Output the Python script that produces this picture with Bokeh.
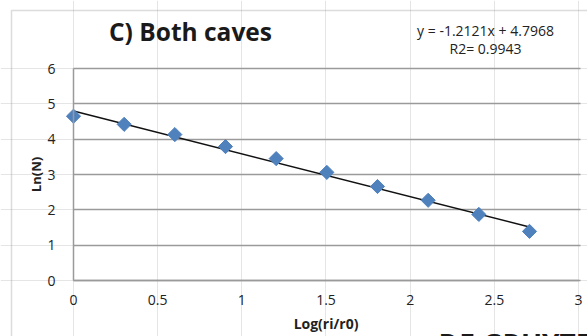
from bokeh.plotting import figure
from bokeh.models import LinearAxis, FixedTicker, Grid, Range1d, BoxAnnotation
from bokeh.core.properties import value
from bokeh.embed import file_html
from bokeh.resources import INLINE

# data
log_r = [0.0, 0.301, 0.602, 0.903, 1.204, 1.505, 1.806, 2.107, 2.408, 2.709]
ln_n = [4.65, 4.42, 4.13, 3.79, 3.45, 3.06, 2.66, 2.27, 1.87, 1.39]
slope = -1.2121
intercept = 4.7968
r2 = 0.9943
x_ticks = [0, 0.5, 1, 1.5, 2, 2.5, 3]
y_ticks = [0, 1, 2, 3, 4, 5, 6]
title_text = "C) Both caves"
x_label = "Log(ri/r0)"
y_label = "Ln(N)"
watermark = "DE GRUYTER"

FONT = "Open Sans"
GRID = "#9a9a9a"

W, H = 587, 336
# frame spans the whole canvas; plot area 0..3 x 0..6 placed inside it
px_per_x = 168.33
px_per_y = 35.333
x0_px, y0_px = 73, 280
x_range = Range1d(-x0_px / px_per_x, (W - x0_px) / px_per_x)
y_range = Range1d(-(H - y0_px) / px_per_y, y0_px / px_per_y)

p = figure(width=W, height=H, output_backend="svg", toolbar_location=None,
           x_range=x_range, y_range=y_range, x_axis_location=None, y_axis_location=None,
           min_border=0)
p.outline_line_color = None
p.background_fill_color = "white"
p.border_fill_color = "white"

# outer chart border
p.add_layout(BoxAnnotation(left=-62 / px_per_x, right=4, top=(y0_px - 10) / px_per_y,
                           bottom=-3, fill_alpha=0, line_color="#8a8a8a", line_width=1.5,
                           level="underlay"))

ygrid = Grid(dimension=1, ticker=FixedTicker(ticks=y_ticks), cross_bounds=(0, 3.01),
             grid_line_color=GRID, grid_line_width=1.5)
p.add_layout(ygrid)

xaxis = LinearAxis(fixed_location=0, bounds=(0, 3), ticker=FixedTicker(ticks=x_ticks))
yaxis = LinearAxis(fixed_location=0, bounds=(0, 6), ticker=FixedTicker(ticks=y_ticks))
xaxis.major_label_overrides = {0: "0", 1: "1", 2: "2", 3: "3"}
for ax in (xaxis, yaxis):
    ax.major_tick_line_color = None
    ax.minor_tick_line_color = None
    ax.axis_line_color = GRID
    ax.axis_line_width = 1.5
    ax.major_label_text_font = FONT
    ax.major_label_text_font_size = "14px"
    ax.major_label_text_color = "#222222"
    ax.axis_label_text_font = FONT
    ax.axis_label_text_font_style = "bold"
    ax.axis_label_text_font_size = "14px"
    ax.axis_label_text_color = "#222222"
xaxis.axis_label = x_label
yaxis.axis_label = y_label
yaxis.axis_label_text_font_size = "13px"
xaxis.major_label_standoff = 8
yaxis.major_label_standoff = 12
xaxis.axis_label_standoff = 6
yaxis.axis_label_standoff = -1
p.add_layout(xaxis, "below")
p.add_layout(yaxis, "left")

# trendline
xs = [log_r[0], log_r[-1]]
ys = [slope * x + intercept for x in xs]
p.line(xs, ys, line_color="#111111", line_width=1.5)

p.scatter(log_r, ln_n, marker="square", angle=0.785398, size=10, fill_color="#4F81BD",
          line_color="#4F81BD")

# title, equation, watermark
p.text(x=[(190 - x0_px) / px_per_x], y=[(y0_px - 31) / px_per_y], text=[title_text],
       text_font=value(FONT), text_font_style="bold", text_font_size="24.5px",
       text_align="center", text_baseline="middle", text_color="#1a1a1a")
p.text(x=[(485 - x0_px) / px_per_x] * 2,
       y=[(y0_px - 30) / px_per_y, (y0_px - 48) / px_per_y],
       text=[f"y = {slope}x + {intercept}", f"R2= {r2}"],
       text_font=value(FONT), text_font_size="14px",
       text_align="center", text_baseline="middle", text_color="#222222")
p.text(x=[(438 - x0_px) / px_per_x], y=[(y0_px - 324) / px_per_y], text=[watermark],
       text_font=value(FONT), text_font_style="bold", text_font_size="28px",
       text_align="left", text_baseline="top", text_color="#1a1a1a")

open("out.html", "w").write(file_html(p, INLINE))
